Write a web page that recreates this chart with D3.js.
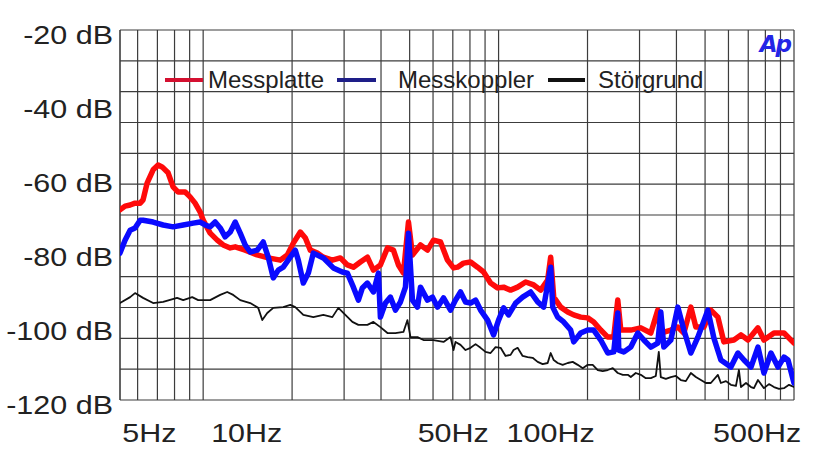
<!DOCTYPE html>
<html>
<head>
<meta charset="utf-8">
<script src="https://cdn.jsdelivr.net/npm/d3@7"></script>
<style>
  html, body { margin: 0; padding: 0; background: #fff; }
  svg { display: block; font-family: "Liberation Sans", Arial, sans-serif; }
</style>
</head>
<body>
<svg id="chart" width="815" height="449"></svg>
<script>
// Messplatte (red)
var redFreq = [5.23, 5.44, 5.66, 5.88, 6.12, 6.26, 6.46, 6.77, 7.04, 7.26, 7.61, 7.91, 8.23, 8.69, 9.03, 9.39, 9.77, 10,
  10.56, 11.16, 11.69, 12.35, 12.84, 13.88, 15.24, 16.61, 18.24, 19.27, 20.19, 21.33, 22.18, 23.05, 24.35, 25.51,
  27.37, 29.13, 30.77, 32.25, 34.06, 35.97, 37.7, 39.81, 42.05, 44.06, 45.81, 47.64, 49.54, 51.11, 54.4, 57.45,
  60.21, 63.6, 67.16, 70.38, 72.61, 76.09, 80.38, 84.88, 88.97, 93.95, 99.22, 104.0, 109.8, 116.0, 123.5, 131.5,
  138.8, 146.6, 150.1, 153.7, 162.3, 171.4, 179.6, 189.7, 200.3, 209.9, 221.7, 234.2, 245.4, 253.2, 259.2, 280.3,
  303.0, 327.6, 345.9, 354.1, 382.9, 404.4, 423.8, 447.6, 465.4, 495.4, 523.0, 552.5, 578.9, 626.0, 661.4, 698.6,
  755.1, 791.1, 855.5, 925.0, 1000];
var redDb = [-68.6, -67.6, -67.3, -66.8, -66.8, -65.9, -61.4, -57.8, -56.5, -57.0, -58.6, -62.4, -63.8, -63.8, -65.1, -66.8, -69.2, -71.4,
  -74.9, -76.8, -78.1, -78.9, -78.6, -79.5, -80.8, -81.6, -82.2, -80.8, -77.6, -74.6, -76.2, -79.5, -80.3, -81.4,
  -82.2, -81.6, -83.5, -84.1, -82.7, -81.4, -84.9, -83.5, -78.9, -79.5, -83.5, -85.7, -71.9, -80.8, -78.1, -79.5,
  -76.8, -77.3, -82.2, -84.3, -84.1, -83.0, -82.7, -84.1, -85.4, -88.4, -89.7, -89.5, -90.3, -89.5, -88.1, -88.9,
  -90.3, -87.6, -81.4, -92.2, -94.9, -96.2, -97.0, -97.6, -97.8, -98.9, -101.1, -103.0, -103.0, -93.0, -101.1, -101.1,
  -100.5, -101.9, -95.7, -101.9, -101.1, -100.3, -101.9, -94.9, -100.3, -100.3, -95.7, -97.6, -104.3, -103.8, -102.4, -103.8,
  -100.5, -103.8, -101.9, -101.9, -104.6];

// Messkoppler (blue)
var blueFreq = [5.23, 5.44, 5.66, 5.88, 6.12, 6.26, 6.77, 7.32, 7.91, 8.56, 9.25, 9.77, 10.16, 10.56, 10.98, 11.42, 11.87,
  12.35, 12.84, 13.35, 13.88, 14.43, 15.24, 15.97, 16.61, 17.27, 17.96, 18.67, 19.72, 20.5, 20.99, 21.83, 22.7, 23.6,
  25.51, 27.58, 29.59, 30.77, 32.25, 33.53, 34.59, 35.97, 37.7, 39.2, 39.81, 41.39, 43.05, 44.75, 46.54, 48.39, 49.54,
  51.11, 53.14, 54.4, 57.45, 59.74, 62.12, 65.1, 68.76, 71.49, 74.33, 77.29, 80.38, 83.57, 86.9, 91.78, 96.18, 100,
  104.0, 108.1, 114.2, 120.6, 128.4, 135.6, 142.1, 150.1, 152.5, 158.5, 166.1, 175.4, 179.6, 189.7, 200.3, 209.9,
  221.7, 234.2, 245.4, 253.2, 255.2, 265.3, 280.3, 296.0, 310.2, 327.6, 345.9, 354.1, 362.5, 382.9, 404.4, 423.8,
  447.6, 472.8, 510.9, 535.4, 565.5, 611.4, 645.8, 677.1, 715.2, 755.1, 791.1, 835.6, 882.7, 925.0, 954.3, 1000];
var blueDb = [-80.3, -76.8, -74.1, -73.5, -71.4, -71.4, -71.9, -72.7, -73.2, -72.7, -72.2, -71.9, -72.7, -73.2, -71.9, -73.5, -75.9,
  -74.6, -71.9, -74.9, -78.1, -80.0, -79.5, -77.3, -81.4, -87.0, -84.9, -84.1, -81.4, -79.5, -82.2, -88.4, -85.7, -80.3,
  -81.6, -84.3, -85.4, -85.7, -89.5, -93.0, -89.7, -88.4, -90.8, -85.7, -97.6, -93.8, -92.2, -95.7, -93.5, -89.5, -74.9,
  -93.0, -94.9, -89.5, -93.0, -92.2, -94.9, -92.4, -95.7, -93.0, -90.8, -93.5, -93.8, -93.0, -95.7, -98.4, -102.4, -98.4,
  -95.1, -97.0, -93.8, -92.2, -90.8, -93.5, -94.9, -84.1, -94.9, -97.6, -98.9, -101.1, -104.3, -101.9, -101.1, -101.1,
  -103.8, -107.3, -107.0, -96.5, -106.5, -107.0, -105.7, -101.9, -103.8, -105.7, -104.6, -96.2, -105.7, -103.8, -94.9, -101.1,
  -107.3, -103.0, -95.7, -103.2, -109.2, -111.1, -107.3, -109.2, -111.1, -105.7, -112.7, -107.3, -111.1, -108.4, -109.2, -115.4];

// Störgrund (black)
var noiseFreq = [5.23, 5.66, 5.88, 6.26, 6.77, 7.32, 8.16, 8.56, 9.18, 9.62, 10.56, 11.42, 12.06, 12.64, 13.35, 14.43,
  15.36, 15.85, 16.48, 17.27, 18.67, 19.72, 20.5, 21.83, 23.6, 25.51, 27.37, 28.68, 30.29, 32.0, 33.53, 35.97, 37.7,
  39.81, 42.05, 44.75, 47.64, 49.15, 50.32, 53.14, 55.69, 60.21, 65.1, 68.76, 70.38, 71.49, 74.33, 77.29, 80.38,
  83.57, 86.9, 90.35, 93.95, 97.68, 101.6, 105.6, 109.8, 112.4, 116.0, 120.6, 125.4, 130.4, 135.6, 141.0, 146.6,
  150.1, 153.7, 158.5, 164.8, 171.4, 178.2, 185.3, 192.7, 200.3, 208.3, 216.6, 225.2, 234.2, 243.5, 253.2, 263.3,
  273.8, 280.3, 291.3, 303.0, 315.0, 327.6, 340.6, 348.6, 354.1, 368.3, 382.9, 398.1, 413.9, 430.4, 447.6, 465.4,
  484.0, 503.2, 523.0, 552.5, 565.5, 588.3, 611.4, 636.1, 651.0, 661.4, 687.8, 715.2, 731.8, 755.1, 791.1, 822.8,
  855.5, 889.7, 925.0, 961.8, 1000];
var noiseDb = [-93.8, -92.2, -91.1, -92.4, -93.8, -93.5, -92.4, -93.0, -92.2, -93.0, -93.0, -91.6, -90.8, -91.6, -93.0, -93.8,
  -95.1, -98.4, -96.5, -95.1, -94.9, -94.3, -94.9, -97.0, -97.6, -97.0, -97.6, -95.1, -97.0, -98.9, -99.7, -99.7, -98.9,
  -100.3, -101.9, -101.9, -101.6, -98.4, -103.0, -103.0, -103.8, -103.8, -104.3, -103.0, -106.5, -104.3, -105.1, -106.5, -105.9,
  -104.9, -105.9, -107.0, -107.3, -105.7, -105.9, -108.1, -107.8, -106.5, -105.9, -108.1, -108.4, -108.6, -109.7, -110.3, -110.0,
  -107.3, -109.2, -110.0, -110.5, -110.0, -109.7, -110.5, -111.4, -110.5, -110.5, -111.9, -112.2, -111.9, -111.4, -112.7, -113.2,
  -113.2, -113.8, -112.7, -113.2, -114.1, -114.1, -113.5, -107.0, -113.8, -114.3, -113.8, -113.5, -114.6, -114.9, -112.7, -113.8,
  -114.6, -115.4, -115.4, -113.2, -115.4, -114.9, -115.9, -116.2, -111.9, -116.5, -115.4, -116.5, -116.8, -114.6, -116.8, -115.7,
  -116.5, -117.0, -116.8, -115.9, -116.5];

var yTickValues = [-20, -40, -60, -80, -100, -120];
var xTickValues = [5, 10, 50, 100, 500];
var xGridValues = [6, 7, 8, 9, 10, 20, 30, 40, 50, 60, 70, 80, 90, 100, 200, 300, 400, 500, 600, 700, 800, 900, 1000];

var seriesNames = ["Messplatte", "Messkoppler", "Störgrund"];

var svg = d3.select("#chart");
var plotLeft = 120, plotRight = 794, plotTop = 30, plotBottom = 400;

var x = d3.scaleLog().domain([5.23, 1000]).range([plotLeft, plotRight]);
var y = d3.scaleLinear().domain([-120, -20]).range([plotBottom, plotTop]);

svg.append("defs").append("clipPath").attr("id", "plotClip")
  .append("rect").attr("x", plotLeft).attr("y", plotTop - 3)
  .attr("width", plotRight - plotLeft).attr("height", plotBottom - plotTop + 6);

// grid
var grid = svg.append("g").attr("stroke", "#3c3c3c").attr("stroke-width", 1.2);
grid.selectAll(".vg").data(xGridValues).join("line")
  .attr("x1", d => x(d)).attr("x2", d => x(d)).attr("y1", plotTop).attr("y2", plotBottom);
grid.append("line").attr("x1", plotLeft).attr("x2", plotLeft).attr("y1", plotTop).attr("y2", plotBottom)
  .attr("stroke-width", 1.6);
// horizontal grid: 12 equal divisions of the level range
grid.selectAll(".hg").data(d3.range(13).map(i => -20 - i * 100 / 12)).join("line")
  .attr("x1", plotLeft).attr("x2", plotRight).attr("y1", d => y(d)).attr("y2", d => y(d));

// y labels
svg.append("g").selectAll("text").data(yTickValues).join("text")
  .attr("transform", d => "translate(113," + (y(d) + 14) + ") scale(1.22,1)")
  .attr("text-anchor", "end").attr("font-size", 25).attr("fill", "#222")
  .text(d => d + " dB");

// x labels
svg.append("g").selectAll("text").data(xTickValues).join("text")
  .attr("transform", d => "translate(" + (x(d) + 8) + ",442) scale(1.22,1)")
  .attr("text-anchor", "start").attr("font-size", 25).attr("fill", "#222")
  .text(d => d + "Hz");

// curves
var line = d3.line().x(d => x(d[0])).y(d => y(d[1]));
var plot = svg.append("g").attr("clip-path", "url(#plotClip)")
  .attr("fill", "none").attr("stroke-linejoin", "round").attr("stroke-linecap", "round");

plot.append("path").datum(d3.zip(noiseFreq, noiseDb))
  .attr("d", line).attr("stroke", "#111").attr("stroke-width", 1.8);
plot.append("path").datum(d3.zip(redFreq, redDb))
  .attr("d", line).attr("stroke", "#ff0a0a").attr("stroke-width", 5.5);
plot.append("path").datum(d3.zip(blueFreq, blueDb))
  .attr("d", line).attr("stroke", "#0a0aff").attr("stroke-width", 5.5);

// legend
var legend = svg.append("g");
var legendItems = [
  { name: seriesNames[0], color: "#d41030", x0: 165, x1: 203, tx: 208 },
  { name: seriesNames[1], color: "#1e1e88", x0: 337, x1: 376, tx: 398 },
  { name: seriesNames[2], color: "#111", x0: 548, x1: 585, tx: 598 }
];
legendItems.forEach(function (it) {
  legend.append("line").attr("x1", it.x0).attr("x2", it.x1).attr("y1", 80).attr("y2", 80)
    .attr("stroke", it.color).attr("stroke-width", 4);
  legend.append("text").attr("x", it.tx).attr("y", 88)
    .attr("font-size", 24).attr("fill", "#222").text(it.name);
});

// Ap logo
svg.append("text").attr("x", 790).attr("y", 52).attr("text-anchor", "end")
  .attr("font-family", "DejaVu Sans, sans-serif").attr("font-weight", "bold").attr("font-style", "italic")
  .attr("font-size", 23).attr("fill", "#2424e6").attr("letter-spacing", -2).text("Ap");
</script>
</body>
</html>
